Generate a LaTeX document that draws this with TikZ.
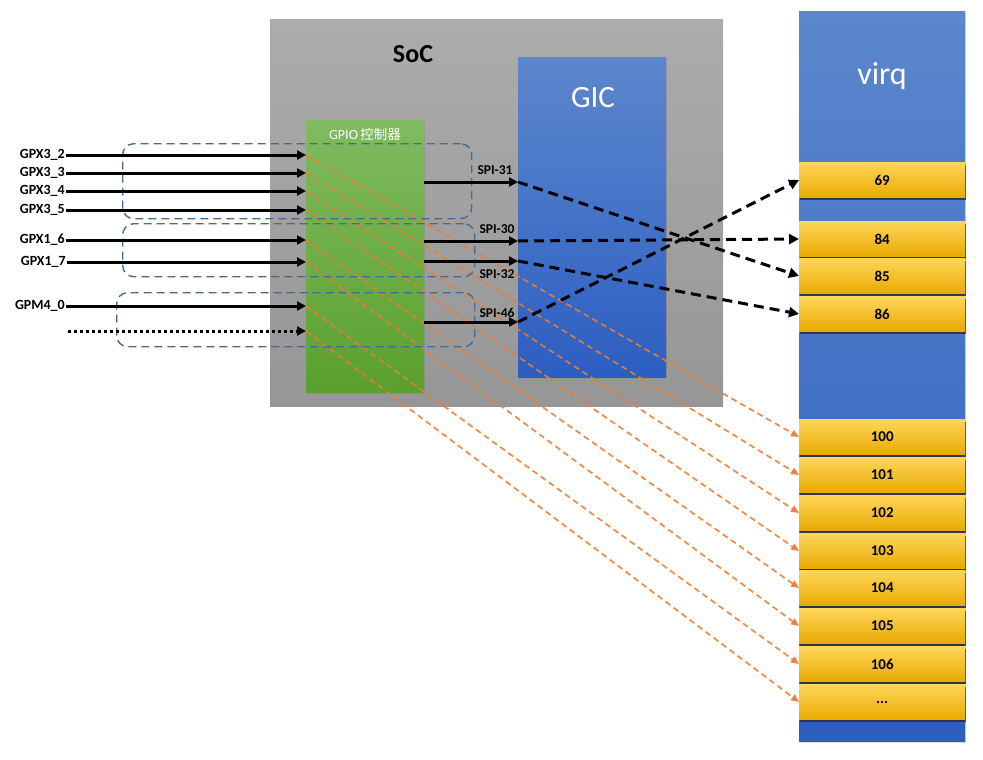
\documentclass[tikz,border=0pt]{standalone}
\usepackage{fontspec}
\setmainfont{Carlito}
\newfontfamily\cjk{Noto Sans CJK SC}
\usetikzlibrary{arrows.meta,shadows}
\definecolor{socTop}{RGB}{172,172,172}
\definecolor{socBot}{RGB}{150,150,150}
\definecolor{gicTop}{RGB}{92,135,205}
\definecolor{gicBot}{RGB}{44,94,194}
\definecolor{grnTop}{RGB}{128,187,96}
\definecolor{grnBot}{RGB}{90,160,46}
\definecolor{vTop}{RGB}{92,135,205}
\definecolor{vBot}{RGB}{46,94,190}
\definecolor{slTop}{RGB}{255,214,90}
\definecolor{slMid}{RGB}{255,194,10}
\definecolor{slBot}{RGB}{232,170,0}
\definecolor{grpC}{RGB}{72,106,145}
\definecolor{orgC}{RGB}{237,125,49}
\begin{document}
\begin{tikzpicture}[x=1pt,y=-1pt,
  box/.style={rectangle, inner sep=0pt, anchor=north west},
  slot/.style={rectangle, inner sep=0pt, anchor=west, minimum width=166pt, minimum height=35pt,
    top color=slTop, middle color=slMid, bottom color=slBot,
    font=\fontsize{15}{17}\bfseries\selectfont,
    drop shadow={shadow xshift=0.6pt, shadow yshift=-2pt, opacity=0.75, fill=black!85}},
  inlbl/.style={anchor=east, inner sep=1pt, font=\fontsize{14}{16}\bfseries\selectfont},
  spilbl/.style={inner sep=0pt, font=\fontsize{13.5}{15}\bfseries\selectfont},
  blk/.style={line width=3pt, -{Triangle[length=9pt,width=9pt]}},
  bdash/.style={line width=3pt, dash pattern=on 10pt off 6pt, -{Triangle[length=10pt,width=10pt]}},
  oline/.style={orgC, line width=1.7pt, dash pattern=on 6pt off 4pt, opacity=0.9, -{Triangle[length=8pt,width=7pt]}},
  grp/.style={rectangle, draw=grpC, line width=1.4pt, dash pattern=on 8pt off 5pt, rounded corners=11pt, inner sep=0pt, anchor=north west}
]
\useasboundingbox (0,0) rectangle (983,760);
% SoC
\node[box, minimum width=453pt, minimum height=387pt, top color=socTop, bottom color=socBot] (soc) at (270,19) {};
\node[font=\fontsize{26}{28}\bfseries\selectfont] (soclbl) at (413,54) {SoC};
% GIC
\node[box, minimum width=148pt, minimum height=320pt, top color=gicTop, bottom color=gicBot,
  drop shadow={shadow xshift=1pt, shadow yshift=-1.5pt, opacity=0.35}] (gic) at (518,57) {};
\node[white, font=\fontsize{31}{33}\selectfont] (giclbl) at (593,98) {GIC};
% GPIO
\node[box, minimum width=118pt, minimum height=272pt, top color=grnTop, bottom color=grnBot,
  drop shadow={shadow xshift=1pt, shadow yshift=-1.5pt, opacity=0.35}] (gpio) at (306,120) {};
\node[white, font=\fontsize{14}{16}\selectfont] (gpiolbl) at (365,134) {GPIO\,{\cjk\fontsize{13.5}{16}\selectfont 控制器}};
% virq column
\node[box, minimum width=166pt, minimum height=730pt, top color=vTop, bottom color=vBot,
  drop shadow={shadow xshift=1pt, shadow yshift=-1.5pt, opacity=0.3}] (virq) at (799,11) {};
\node[white, font=\fontsize{32}{34}\selectfont] (virqlbl) at (882,76) {virq};
% slots
\node[slot] (v69) at (799,180) {69};
\node[slot] (v84) at (799,239) {84};
\node[slot] (v85) at (799,276) {85};
\node[slot] (v86) at (799,314) {86};
\node[slot] (v100) at (799,437) {100};
\node[slot] (v101) at (799,475) {101};
\node[slot] (v102) at (799,513) {102};
\node[slot] (v103) at (799,551) {103};
\node[slot] (v104) at (799,588) {104};
\node[slot] (v105) at (799,626) {105};
\node[slot] (v106) at (799,664) {106};
\node[slot] (vdots) at (799,702) {...};
% input labels
\node[inlbl] (l1) at (66,155) {GPX3\_2};
\node[inlbl] (l2) at (66,173) {GPX3\_3};
\node[inlbl] (l3) at (66,191) {GPX3\_4};
\node[inlbl] (l4) at (66,210) {GPX3\_5};
\node[inlbl] (l5) at (66,240) {GPX1\_6};
\node[inlbl] (l6) at (67,262) {GPX1\_7};
\node[inlbl] (l7) at (66,306) {GPM4\_0};
\coordinate (l8) at (68,331);
% orange mapping lines
\draw[oline] (l1.east -| gpio.west) -- (v100.west);
\draw[oline] (l2.east -| gpio.west) -- (v101.west);
\draw[oline] (l3.east -| gpio.west) -- (v102.west);
\draw[oline] (l4.east -| gpio.west) -- (v103.west);
\draw[oline] (l5.east -| gpio.west) -- (v104.west);
\draw[oline] (l6.east -| gpio.west) -- (v105.west);
\draw[oline] (l7.east -| gpio.west) -- (v106.west);
\draw[oline] (l8 -| gpio.west) -- (vdots.west);
% groups
\node[grp, minimum width=349pt, minimum height=75pt] (grpA) at (122,143) {};
\node[grp, minimum width=352pt, minimum height=53pt] (grpB) at (122,223) {};
\node[grp, minimum width=358pt, minimum height=54pt] (grpC) at (116,292) {};
% input arrows
\draw[blk] (l1.east) -- (l1.east -| gpio.west);
\draw[blk] (l2.east) -- (l2.east -| gpio.west);
\draw[blk] (l3.east) -- (l3.east -| gpio.west);
\draw[blk] (l4.east) -- (l4.east -| gpio.west);
\draw[blk] (l5.east) -- (l5.east -| gpio.west);
\draw[blk] (l6.east) -- (l6.east -| gpio.west);
\draw[blk] (l7.east) -- (l7.east -| gpio.west);
\draw[line width=3pt, dash pattern=on 3pt off 3pt, -{Triangle[length=9pt,width=9pt]}] (l8) -- (l8 -| gpio.west);
% SPI lines
\coordinate (s31) at (518,182);
\coordinate (s30) at (518,241);
\coordinate (s32) at (518,261);
\coordinate (s46) at (518,322);
\draw[blk] (s31 -| gpio.east) -- (s31);
\draw[blk] (s30 -| gpio.east) -- (s30);
\draw[blk] (s32 -| gpio.east) -- (s32);
\draw[blk] (s46 -| gpio.east) -- (s46);
\node[spilbl] (t31) at (495,170) {SPI-31};
\node[spilbl] (t30) at (497,229) {SPI-30};
\node[spilbl] (t32) at (497,274) {SPI-32};
\node[spilbl] (t46) at (497,313) {SPI-46};
% GIC -> virq
\draw[bdash] (s31) -- (v85.west);
\draw[bdash] (s30) -- (v84.west);
\draw[bdash] (s32) -- (v86.west);
\draw[bdash] (s46) -- (v69.west);
\end{tikzpicture}
\end{document}
